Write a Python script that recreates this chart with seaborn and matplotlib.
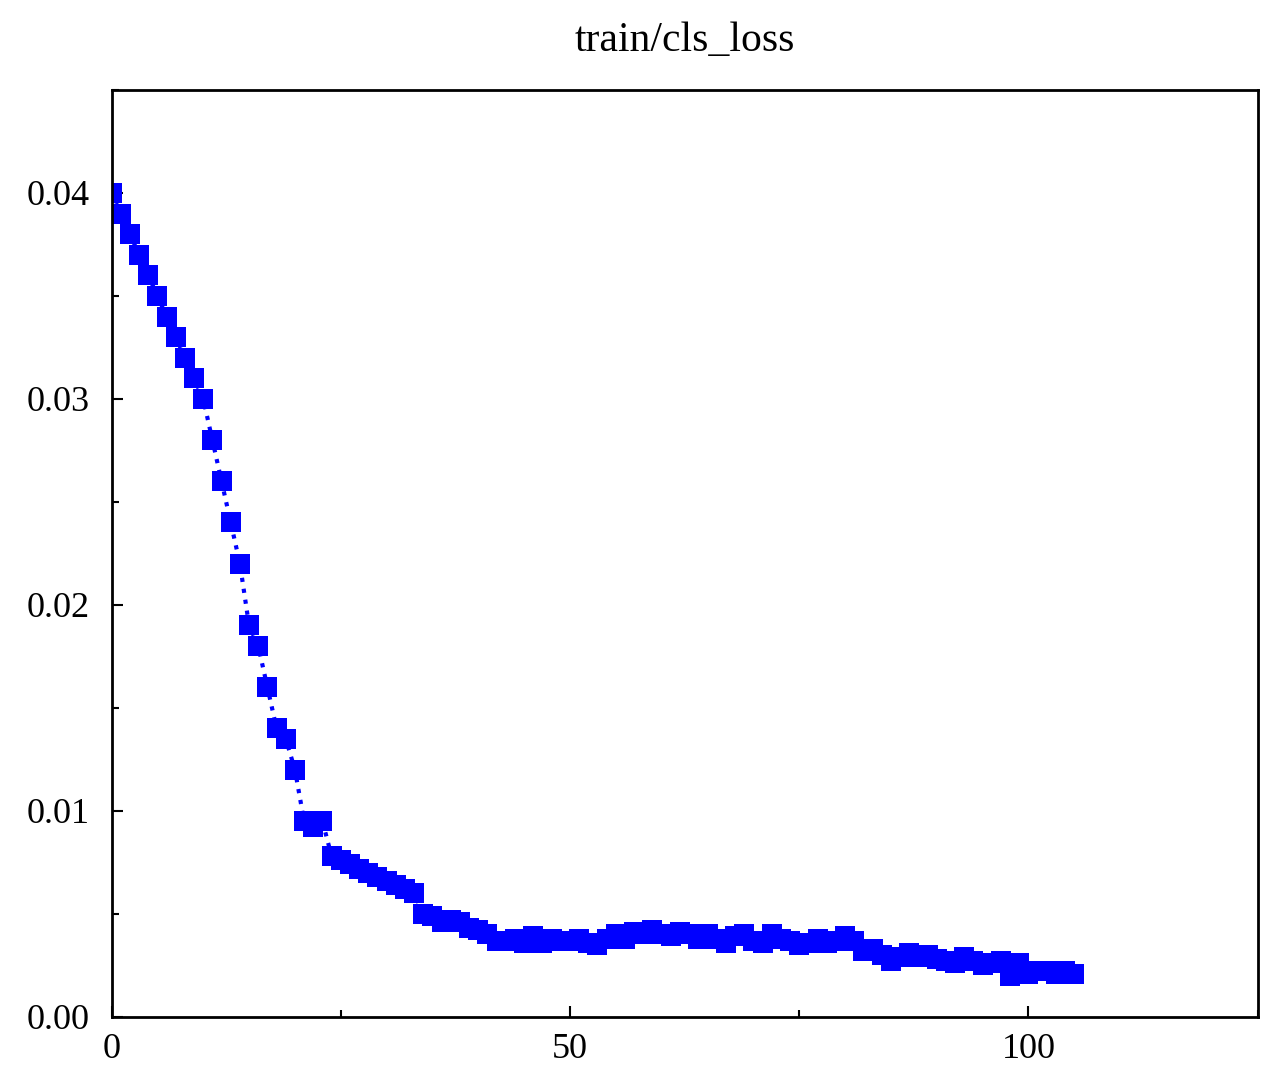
import numpy as np
import pandas as pd
import seaborn as sns
import matplotlib.pyplot as plt
from matplotlib.ticker import MultipleLocator

epochs = list(range(106))
cls_loss = [
    0.0400, 0.0390, 0.0380, 0.0370, 0.0360, 0.0350, 0.0340, 0.0330, 0.0320, 0.0310,
    0.0300, 0.0280, 0.0260, 0.0240, 0.0220, 0.0190, 0.0180, 0.0160, 0.0140, 0.0135,
    0.0120, 0.0095, 0.0092, 0.0095, 0.0078, 0.0076, 0.0074, 0.0072, 0.0070, 0.0068,
    0.0066, 0.0064, 0.0062, 0.0060, 0.0050, 0.0049, 0.0046, 0.0047, 0.0046, 0.0043,
    0.0042, 0.0040, 0.0037, 0.0037, 0.0038, 0.0036, 0.0039, 0.0036, 0.0038, 0.0037,
    0.0037, 0.0038, 0.0036, 0.0035, 0.0038, 0.0040, 0.0038, 0.0041, 0.0040, 0.0042,
    0.0040, 0.0039, 0.0041, 0.0040, 0.0038, 0.0040, 0.0038, 0.0036, 0.0039, 0.0040,
    0.0037, 0.0036, 0.0040, 0.0038, 0.0037, 0.0035, 0.0036, 0.0038, 0.0036, 0.0037,
    0.0039, 0.0037, 0.0032, 0.0033, 0.0030, 0.0027, 0.0029, 0.0031, 0.0029, 0.0030,
    0.0028, 0.0027, 0.0026, 0.0029, 0.0027, 0.0025, 0.0026, 0.0027, 0.0020, 0.0026,
    0.0021, 0.0022, 0.0022, 0.0021, 0.0022, 0.0021,
]

df = pd.DataFrame({"epoch": epochs, "loss": cls_loss})

sns.set_style("ticks")
plt.rcParams['font.family'] = ['Liberation Serif', 'DejaVu Serif']

fig, ax = plt.subplots(figsize=(12.82, 10.84), dpi=100)
sns.lineplot(data=df, x="epoch", y="loss", ax=ax, color="blue", linestyle=":",
             linewidth=3, marker="s", markersize=15, markeredgewidth=0)

ax.set_xlim(0, 125)
ax.set_ylim(0, 0.045)
ax.xaxis.set_major_locator(MultipleLocator(50))
ax.xaxis.set_minor_locator(MultipleLocator(25))
ax.yaxis.set_major_locator(MultipleLocator(0.01))
ax.yaxis.set_minor_locator(MultipleLocator(0.005))
ax.yaxis.set_major_formatter(plt.FuncFormatter(lambda v, p: f"{v:.2f}"))
ax.tick_params(which="both", direction="in", labelsize=26, width=1.5,
               colors="black")
ax.tick_params(axis="y", pad=16)
ax.tick_params(axis="x", pad=12)
ax.tick_params(which="major", length=8)
ax.tick_params(which="minor", length=5)
for s in ax.spines.values():
    s.set_linewidth(2)
    s.set_color("black")
ax.set_xlabel("")
ax.set_ylabel("")
ax.set_title("train/cls_loss", fontsize=30, pad=28, color="black")

plt.subplots_adjust(left=0.087, right=0.981, top=0.917, bottom=0.062)
plt.savefig("out.png")
